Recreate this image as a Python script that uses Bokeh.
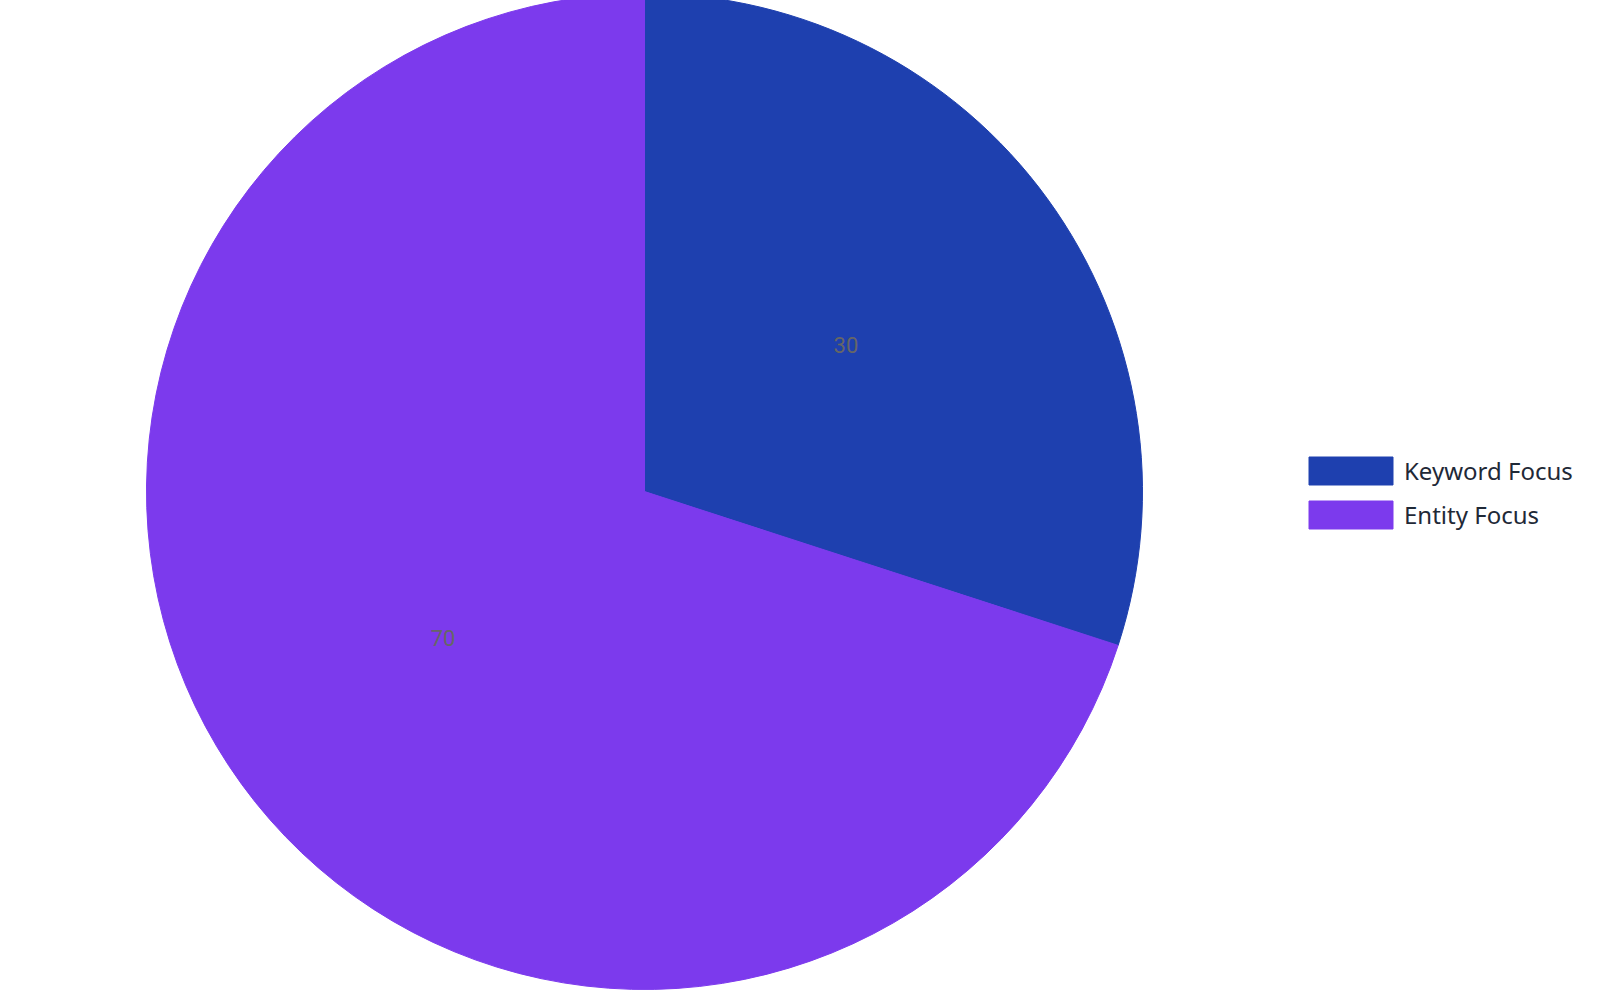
import numpy as np
from bokeh.plotting import figure
from bokeh.models import ColumnDataSource, Range1d, Legend, LegendItem
from bokeh.core.properties import value
from bokeh.embed import file_html
from bokeh.resources import INLINE

# ---- data ----
categories = ["Keyword Focus", "Entity Focus"]
values = [30, 70]
colors = ["#1e40af", "#7c3aed"]

# ---- layout (screen-pixel data space) ----
W, H = 1600, 1000
cx, cy, r = 652, 501, 498

vals = np.array(values, dtype=float)
frac = vals / vals.sum()
cum_end = np.cumsum(frac)
cum_start = cum_end - frac
start = np.pi / 2 - 2 * np.pi * cum_end
end = np.pi / 2 - 2 * np.pi * cum_start
mid = (start + end) / 2

src = ColumnDataSource(dict(
    cat=categories, val=values, color=colors,
    lx=cx + 0.5 * r * np.cos(mid), ly=cy + 0.5 * r * np.sin(mid),
    label=[str(v) for v in values],
))

p = figure(width=W, height=H, output_backend="svg", toolbar_location=None,
           x_range=Range1d(0, W), y_range=Range1d(0, H),
           min_border=0, outline_line_color=None)
p.margin = (-8, 0, 0, -8)
p.axis.visible = False
p.grid.visible = False
p.background_fill_color = "white"

renderers = []
for i in range(len(categories)):
    sub = ColumnDataSource(dict(start=[start[i]], end=[end[i]], color=[colors[i]]))
    rr = p.wedge(x=cx, y=cy, radius=r, start_angle="start", end_angle="end",
                 direction="anticlock", fill_color="color", line_color="color",
                 line_width=1, source=sub)
    renderers.append(rr)

p.text(x="lx", y="ly", text="label", source=src, text_font=value("Roboto"),
       text_font_size="22px", text_color="#666666", text_align="center",
       text_baseline="middle")

legend = Legend(
    items=[LegendItem(label=categories[i], renderers=[renderers[i]]) for i in range(len(categories))],
    location=(1306, 460), orientation="vertical",
    glyph_width=105, glyph_height=35, label_standoff=1, spacing=9,
    padding=0, margin=0, border_line_color=None, background_fill_alpha=0,
    label_text_font="Noto Sans", label_text_font_size="24px",
    label_text_color="#1f2937", label_height=35,
)
p.add_layout(legend, "center")

open("out.html", "w").write(file_html(p, INLINE))
